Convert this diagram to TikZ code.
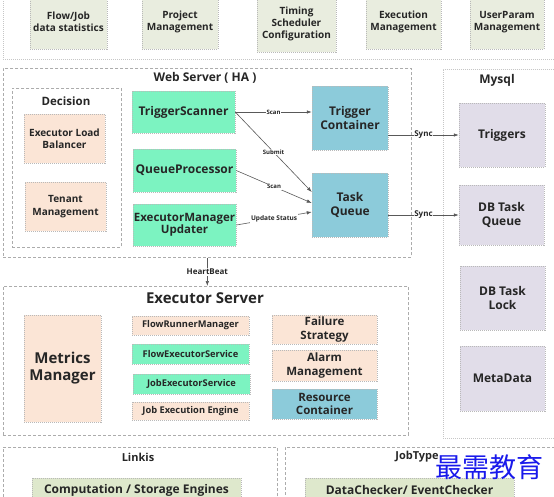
\documentclass[tikz,border=0pt]{standalone}
\usepackage{fontspec}
\setmainfont{Open Sans}
\newfontfamily\cjkfont{Noto Sans CJK SC}
\usetikzlibrary{arrows.meta}

\definecolor{topfill}{RGB}{233,237,223}
\definecolor{basefill}{RGB}{222,232,204}
\definecolor{peach}{RGB}{251,229,214}
\definecolor{mint}{RGB}{124,243,193}
\definecolor{teal}{RGB}{140,203,218}
\definecolor{lilac}{RGB}{225,221,233}
\definecolor{inkblue}{RGB}{25,25,235}

\begin{document}
\begin{tikzpicture}[x=1pt, y=-1pt,
  frame/.style={draw=gray!65, dashed, dash pattern=on 3pt off 2pt, line width=0.6pt},
  dotframe/.style={draw=gray!45, dash pattern=on 1pt off 1pt, line width=0.6pt},
  box/.style={draw=gray!55, dash pattern=on 1pt off 1pt, line width=0.5pt, align=center,
    inner sep=1pt, text=black!85, font=\bfseries\fontsize{12}{14}\selectfont},
  topbox/.style={box, fill=topfill, font=\bfseries\fontsize{10}{12}\selectfont},
  peachbox/.style={box, fill=peach},
  mintbox/.style={box, fill=mint},
  tealbox/.style={box, fill=teal},
  lilacbox/.style={box, fill=lilac},
  title/.style={text=black!85, font=\bfseries\fontsize{12}{14}\selectfont},
  flow/.style={draw=black!65, line width=0.6pt, -{Latex[length=5pt,width=3.5pt]}},
  lbl/.style={fill=white, inner sep=0.8pt, text=black!85, font=\bfseries\fontsize{6}{7}\selectfont}]
  \useasboundingbox (0,0) rectangle (554,496);

  %% Top row: management functions
  \node[dotframe, anchor=north west, minimum width=557, minimum height=64] (top) at (3,-5) {};
  \node[topbox, minimum width=77, minimum height=54] (stats) at (68.5,22) {Flow/Job\\data statistics};
  \node[topbox, minimum width=76, minimum height=54] (project) at (180,22) {Project\\Management};
  \node[topbox, minimum width=79, minimum height=57] (timing) at (296.5,23.5) {Timing\\Scheduler\\Configuration};
  \node[topbox, minimum width=75, minimum height=54] (exec) at (403.5,22) {Execution\\Management};
  \node[topbox, minimum width=74, minimum height=54] (param) at (507,22) {UserParam\\Management};

  %% Web server
  \node[frame, anchor=north west, minimum width=408, minimum height=189] (web) at (3,68) {};
  \node[title] (webtitle) at (205,78) {Web Server ( HA )};

  % Decision block
  \node[frame, anchor=north west, minimum width=109, minimum height=159] (decision) at (12,88) {};
  \node[title, font=\bfseries\fontsize{11.5}{13}\selectfont] (dectitle) at (66,101) {Decision};
  \node[peachbox, font=\bfseries\fontsize{10}{12.3}\selectfont, minimum width=81, minimum height=49] (balancer) at (64.5,138.5) {Executor Load\\Balancer};
  \node[peachbox, font=\bfseries\fontsize{10}{12.3}\selectfont, minimum width=81, minimum height=49] (tenant) at (65.5,206.5) {Tenant\\Management};

  % Scanners and processors
  \node[mintbox, minimum width=103, minimum height=42] (ts) at (183.5,112) {TriggerScanner};
  \node[mintbox, minimum width=103, minimum height=43] (qp) at (184.5,170.5) {QueueProcessor};
  \node[mintbox, font=\bfseries\fontsize{11.5}{12.5}\selectfont, minimum width=103, minimum height=42] (emu) at (184.5,225) {ExecutorManager\\Updater};

  % Containers
  \node[tealbox, minimum width=76, minimum height=64] (tc) at (350,118) {Trigger\\Container};
  \node[tealbox, minimum width=76, minimum height=64] (tq) at (350,205) {Task\\Queue};

  %% Mysql
  \node[dotframe, anchor=north west, minimum width=117, minimum height=369] (mysql) at (443,69) {};
  \node[title] (mysqltitle) at (497,80) {Mysql};
  \node[lilacbox, minimum width=86, minimum height=64] (trg) at (502,135) {Triggers};
  \node[lilacbox, minimum width=85, minimum height=60] (dbq) at (501.5,215) {DB Task\\Queue};
  \node[lilacbox, minimum width=85, minimum height=64] (dbl) at (502.5,298) {DB Task\\Lock};
  \node[lilacbox, minimum width=85, minimum height=65] (meta) at (502.5,378.5) {MetaData};

  %% Executor server
  \node[frame, anchor=north west, minimum width=405, minimum height=149] (exe) at (3,286) {};
  \node[title, font=\bfseries\fontsize{15}{17}\selectfont] (exetitle) at (205,298) {Executor Server};
  \node[peachbox, font=\bfseries\fontsize{15}{17}\selectfont, minimum width=77, minimum height=107] (metrics) at (62.5,368.5) {Metrics\\Manager};
  \node[peachbox, font=\bfseries\fontsize{9.3}{11}\selectfont, minimum width=117, minimum height=19] (frm) at (190.5,325.5) {FlowRunnerManager};
  \node[mintbox, font=\bfseries\fontsize{9.3}{11}\selectfont, minimum width=117, minimum height=20] (fes) at (190.5,354) {FlowExecutorService};
  \node[mintbox, font=\bfseries\fontsize{9.3}{11}\selectfont, minimum width=117, minimum height=20] (jes) at (191.5,384) {JobExecutorService};
  \node[peachbox, font=\bfseries\fontsize{9.3}{11}\selectfont, minimum width=117, minimum height=18] (jee) at (190.5,411) {Job Execution Engine};
  \node[peachbox, font=\bfseries\fontsize{11.5}{13.5}\selectfont, minimum width=105, minimum height=29] (fail) at (324.5,329.5) {Failure\\Strategy};
  \node[peachbox, font=\bfseries\fontsize{11.5}{13.5}\selectfont, minimum width=105, minimum height=31] (alarm) at (324.5,365.5) {Alarm\\Management};
  \node[tealbox, font=\bfseries\fontsize{11.5}{13.5}\selectfont, minimum width=105, minimum height=30] (res) at (324.5,404) {Resource\\Container};

  %% Bottom row
  \node[frame, anchor=north west, minimum width=274, minimum height=60] (linkis) at (3,447) {};
  \node[title, font=\bfseries\fontsize{11}{13}\selectfont] (linkistitle) at (138,457) {Linkis};
  \node[box, fill=basefill, minimum width=209, minimum height=24] (engines) at (136.5,490) {Computation / Storage Engines};
  \node[frame, anchor=north west, minimum width=275, minimum height=60] (jobtype) at (285,447) {};
  \node[title, font=\bfseries\fontsize{11}{13}\selectfont] (jobtitle) at (417,457) {JobType};
  \node[box, fill=basefill, minimum width=209, minimum height=24] (checker) at (409.5,490) {DataChecker/ EventChecker};

  % Watermark
  \node[text=inkblue, font=\cjkfont\fontsize{27}{29}\selectfont, inner sep=0pt] (mark) at (489,467) {最需教育};

  %% Connectors
  \draw[flow] (ts.east) -- node[lbl] {Scan} (ts.east -| tc.west);
  \draw[flow] (ts.east) -- node[lbl] {Submit} ([yshift=13pt]tq.west);
  \draw[flow] (qp.east) -- node[lbl] {Scan} ([yshift=2pt]tq.west);
  \draw[flow] (emu.east) -- node[lbl, font=\bfseries\fontsize{6.5}{7}\selectfont] {Update Status} ([yshift=-7pt]tq.west);
  \draw[flow] (tc.east |- trg.west) -- node[lbl, font=\bfseries\fontsize{8}{9}\selectfont] {Sync} (trg.west);
  \draw[flow] (tq.east |- dbq.west) -- node[lbl, font=\bfseries\fontsize{8}{9}\selectfont] {Sync} (dbq.west);
  \draw[flow] (web.south) -- node[lbl, font=\bfseries\fontsize{8}{9}\selectfont] {HeartBeat} (web.south |- exe.north);
\end{tikzpicture}
\end{document}
